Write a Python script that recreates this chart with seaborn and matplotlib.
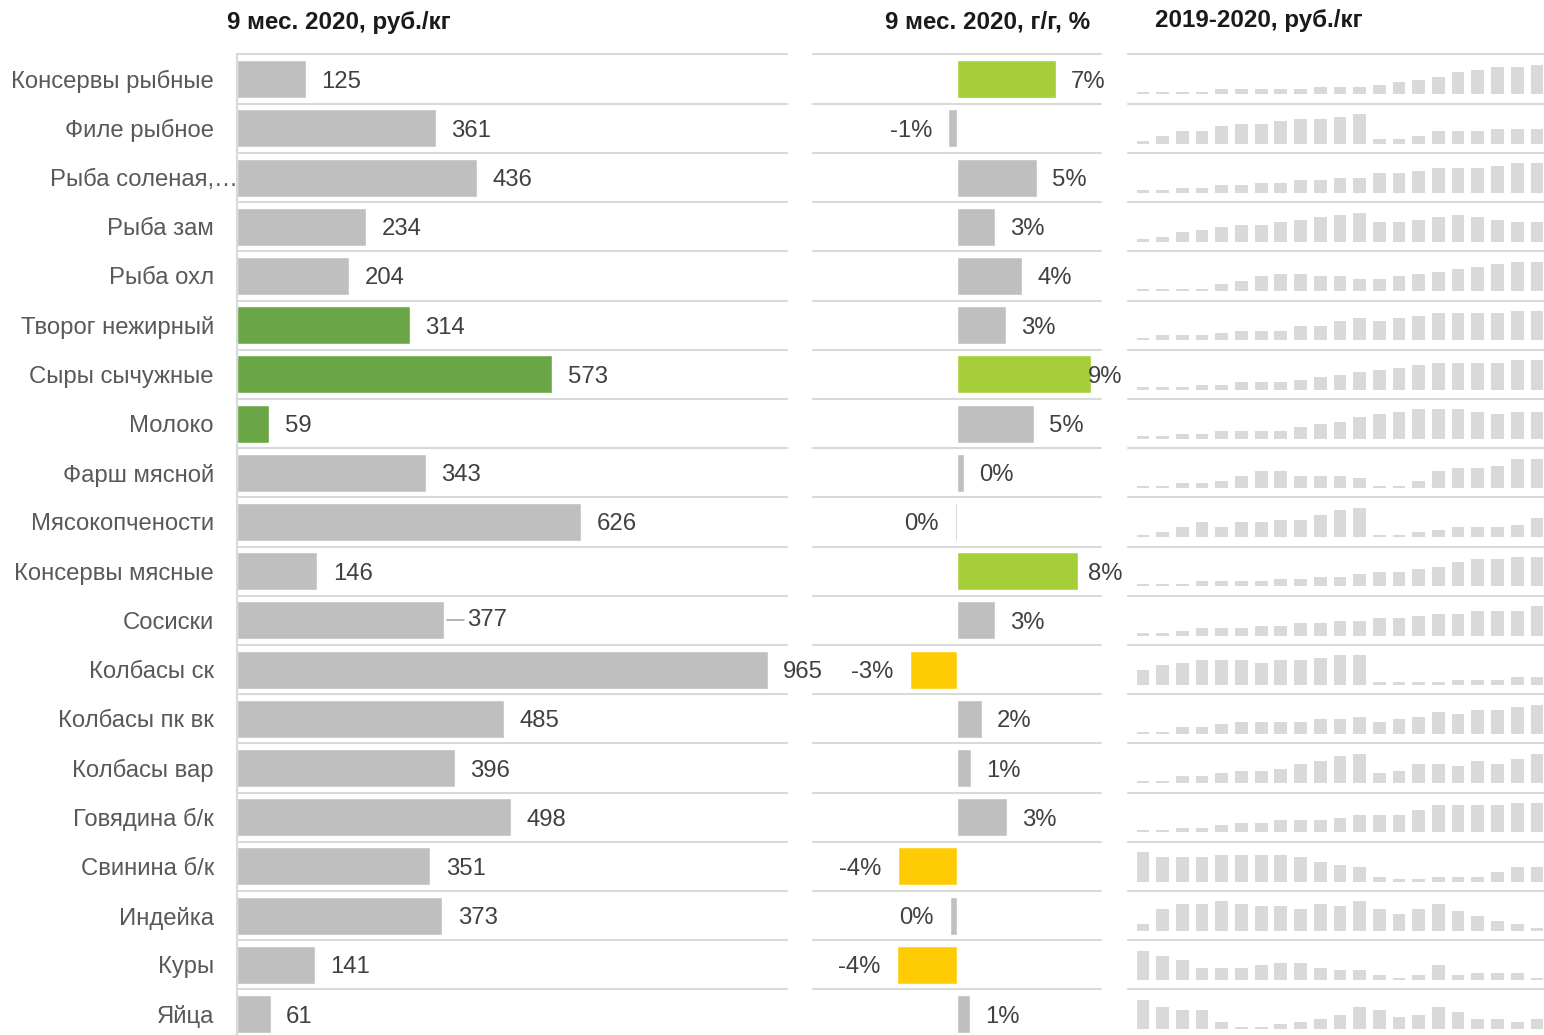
import matplotlib
matplotlib.use("Agg")
import matplotlib.pyplot as plt
import matplotlib.transforms as mtransforms
import seaborn as sns

# ---- data -------------------------------------------------------------
categories = [
    "Консервы рыбные", "Филе рыбное", "Рыба соленая,…", "Рыба зам", "Рыба охл",
    "Творог нежирный", "Сыры сычужные", "Молоко", "Фарш мясной", "Мясокопчености",
    "Консервы мясные", "Сосиски", "Колбасы ск", "Колбасы пк вк", "Колбасы вар",
    "Говядина б/к", "Свинина б/к", "Индейка", "Куры", "Яйца",
]

# average price, 9 months of 2020, rub/kg
price_2020 = [125, 361, 436, 234, 204, 314, 573, 59, 343, 626,
              146, 377, 965, 485, 396, 498, 351, 373, 141, 61]

# year-over-year change, %
yoy_change = [6.7, -0.58, 5.4, 2.6, 4.4, 3.3, 9.05, 5.2, 0.48, -0.15,
              8.2, 2.6, -3.2, 1.7, 0.95, 3.4, -3.97, -0.48, -4.05, 0.86]

# monthly price dynamics 2019-01 .. 2020-09 (relative level within each product)
trend_fish_canned = [1, 1, 1, 1, 2, 2, 2, 2, 2, 3, 3, 3, 4, 5, 6, 7, 9, 10, 11, 11, 12]
trend_fish_fillet = [1, 3, 5, 5, 7, 8, 8, 9, 10, 10, 11, 12, 2, 2, 3, 5, 5, 5, 6, 6, 6]
trend_fish_salted = [1, 1, 2, 2, 3, 3, 4, 4, 5, 5, 6, 6, 8, 8, 9, 10, 10, 10, 11, 12, 12]
trend_fish_frozen = [1, 2, 4, 5, 6, 7, 7, 8, 9, 10, 11, 12, 8, 8, 9, 10, 11, 10, 9, 8, 8]
trend_fish_chilled = [1, 1, 1, 1, 3, 4, 6, 7, 7, 6, 6, 5, 5, 6, 7, 8, 9, 10, 11, 12, 12]
trend_cottage = [1, 2, 2, 2, 3, 4, 4, 4, 6, 6, 8, 9, 8, 9, 10, 11, 11, 11, 11, 12, 12]
trend_cheese = [1, 1, 1, 2, 2, 3, 3, 3, 4, 5, 6, 7, 8, 9, 10, 11, 11, 11, 11, 12, 12]
trend_milk = [1, 1, 2, 2, 3, 3, 3, 3, 5, 6, 7, 9, 10, 11, 12, 12, 12, 11, 10, 11, 11]
trend_mince = [1, 1, 2, 2, 3, 5, 7, 7, 5, 5, 5, 4, 1, 1, 3, 7, 8, 8, 9, 12, 12]
trend_smoked = [1, 2, 4, 6, 4, 6, 6, 7, 7, 9, 11, 12, 1, 1, 2, 3, 4, 4, 4, 5, 8]
trend_meat_canned = [1, 1, 1, 2, 2, 2, 2, 3, 3, 4, 4, 5, 6, 6, 7, 8, 10, 11, 11, 12, 12]
trend_sausages = [1, 1, 2, 3, 3, 3, 4, 4, 5, 5, 6, 6, 7, 7, 8, 9, 9, 10, 10, 10, 12]
trend_dry_sausage = [6, 8, 9, 10, 10, 10, 9, 10, 10, 11, 12, 12, 1, 1, 1, 1, 2, 2, 2, 3, 3]
trend_semi_smoked = [1, 1, 3, 3, 4, 5, 5, 5, 5, 6, 6, 7, 5, 6, 7, 9, 8, 10, 10, 11, 12]
trend_boiled = [1, 1, 3, 3, 4, 5, 5, 6, 8, 9, 11, 12, 4, 5, 8, 8, 7, 9, 8, 10, 12]
trend_beef = [1, 1, 2, 2, 3, 4, 4, 5, 5, 5, 6, 7, 7, 7, 9, 11, 11, 11, 11, 12, 12]
trend_pork = [12, 10, 10, 10, 11, 11, 11, 11, 10, 8, 7, 6, 2, 1, 1, 2, 2, 2, 4, 6, 6]
trend_turkey = [3, 9, 11, 11, 12, 11, 10, 10, 9, 11, 10, 12, 9, 7, 9, 11, 8, 6, 4, 3, 1]
trend_chicken = [12, 10, 8, 5, 5, 5, 6, 7, 7, 5, 4, 4, 2, 1, 2, 6, 2, 3, 3, 3, 1]
trend_eggs = [12, 9, 8, 8, 3, 1, 1, 2, 3, 4, 6, 9, 8, 5, 6, 9, 7, 4, 4, 3, 4]

trends = [
    trend_fish_canned, trend_fish_fillet, trend_fish_salted, trend_fish_frozen,
    trend_fish_chilled, trend_cottage, trend_cheese, trend_milk, trend_mince,
    trend_smoked, trend_meat_canned, trend_sausages, trend_dry_sausage,
    trend_semi_smoked, trend_boiled, trend_beef, trend_pork, trend_turkey,
    trend_chicken, trend_eggs,
]
months = [f"{y}-{m:02d}" for y in (2019, 2020) for m in range(1, 13)][:21]

titles = ["9 мес. 2020, руб./кг", "9 мес. 2020, г/г, %", "2019-2020, руб./кг"]

# ---- styling ----------------------------------------------------------
GRAY = "#bfbfbf"
DAIRY_GREEN = "#6aa645"
LIME = "#a6ce39"
AMBER = "#ffcb05"
GRID = "#d9d9d9"
SPARK = "#d9d9d9"
LABEL_C = "#595959"
VALUE_C = "#404040"
FS = 17.2

dairy = {"Творог нежирный", "Сыры сычужные", "Молоко"}
left_colors = [DAIRY_GREEN if c in dairy else GRAY for c in categories]


def yoy_color(v):
    if v >= 6.5:
        return LIME
    if v <= -2.5:
        return AMBER
    return GRAY


mid_colors = [yoy_color(v) for v in yoy_change]

sns.set_theme(style="white")
plt.rcParams["font.family"] = ["Liberation Sans", "DejaVu Sans"]

W, H = 1544, 1035
fig = plt.figure(figsize=(W / 100, H / 100), dpi=100)


def box(x0, y0, x1, y1):
    return [x0 / W, 1 - y1 / H, (x1 - x0) / W, (y1 - y0) / H]


TOP = 54.5
PITCH = 49.21
N = len(categories)
BOTTOM = TOP + PITCH * N
BAR_W = 0.772
TEXT_DY = -2.5  # nudge labels down so digits sit on the bar centre


def row_grid(ax):
    for k in range(N + 1):
        ax.axhline(k - 0.5, color=GRID, lw=1.5, clip_on=False, zorder=0)


# ---- left panel: prices ----------------------------------------------
axL = fig.add_axes(box(237, TOP, 787, BOTTOM))
axL.set_facecolor("none")
sns.barplot(x=price_2020, y=categories, hue=categories, palette=left_colors,
            dodge=False, legend=False, width=BAR_W, saturation=1,
            orient="h", ax=axL, zorder=2)
axL.set_xlim(0, 1000)
axL.set_ylim(N - 0.5, -0.5)
axL.set_xlabel("")
axL.set_ylabel("")
axL.set_xticks([])
axL.set_yticks([])
for s in ("top", "right", "bottom"):
    axL.spines[s].set_visible(False)
axL.spines["left"].set_color(GRID)
axL.spines["left"].set_linewidth(1.5)
row_grid(axL)

label_tr = mtransforms.offset_copy(axL.get_yaxis_transform(), fig=fig,
                                   x=-23, y=TEXT_DY, units="dots")
for i, name in enumerate(categories):
    if name.endswith("…"):
        axL.text(0, i, name[:-1], transform=label_tr, ha="right", va="center",
                 fontsize=FS, color=LABEL_C)
        axL.text(0, i, "…", transform=label_tr, ha="left", va="center",
                 fontsize=FS, color=LABEL_C)
    else:
        axL.text(0, i, name, transform=label_tr, ha="right", va="center",
                 fontsize=FS, color=LABEL_C)

dy_pt = TEXT_DY * 72 / 100
for i, v in enumerate(price_2020):
    if categories[i] == "Сосиски":
        axL.annotate(f"{v}", xy=(v, i), xytext=(16.5, dy_pt + 2.0),
                     textcoords="offset points", ha="left", va="center",
                     fontsize=FS, color=VALUE_C, annotation_clip=False,
                     arrowprops=dict(arrowstyle="-", color="#a6a6a6", lw=1.2,
                                     shrinkA=0, shrinkB=2,
                                     connectionstyle="angle,angleA=0,angleB=60,rad=0"))
    else:
        axL.annotate(f"{v}", xy=(v, i), xytext=(11.2, dy_pt),
                     textcoords="offset points", ha="left", va="center",
                     fontsize=FS, color=VALUE_C, annotation_clip=False)

# ---- middle panel: year-over-year change ------------------------------
PX_PER_PCT = 14.8
axM = fig.add_axes(box(813, TOP, 1101, BOTTOM))
axM.set_facecolor("none")
sns.barplot(x=yoy_change, y=categories, hue=categories, palette=mid_colors,
            dodge=False, legend=False, width=BAR_W, saturation=1,
            orient="h", ax=axM, zorder=2)
lim = 144 / PX_PER_PCT
axM.set_xlim(-lim, lim)
axM.set_ylim(N - 0.5, -0.5)
axM.set_xlabel("")
axM.set_ylabel("")
axM.set_xticks([])
axM.set_yticks([])
for s in axM.spines.values():
    s.set_visible(False)
row_grid(axM)

mid_tr = mtransforms.offset_copy(axM.transData, fig=fig, x=0, y=TEXT_DY,
                                 units="dots")
gap = 15 / PX_PER_PCT
label_cap = 131 / PX_PER_PCT
for i, v in enumerate(yoy_change):
    txt = f"{int(round(v)) + 0}%"
    if v >= 0:
        axM.text(min(v + gap, label_cap), i, txt, transform=mid_tr,
                 ha="left", va="center", fontsize=FS, color=VALUE_C,
                 zorder=3, clip_on=False)
    else:
        axM.text(v - gap * 1.1, i, txt, transform=mid_tr,
                 ha="right", va="center", fontsize=FS, color=VALUE_C,
                 zorder=3, clip_on=False)

# ---- right panel: monthly sparklines ----------------------------------
SX0, SX1 = 1128, 1544
axS = fig.add_axes(box(SX0, TOP, SX1, BOTTOM))
axS.set_xlim(0, 1)
axS.set_ylim(N - 0.5, -0.5)
axS.set_axis_off()
row_grid(axS)

STEP_PX = 2.45
SPARK_H = 31
for i, series in enumerate(trends):
    base = 94.3 + PITCH * i
    sax = fig.add_axes(box(SX0, base - SPARK_H, SX1, base))
    sax.set_facecolor("none")
    sns.barplot(x=months, y=series, color=SPARK, width=0.645, saturation=1,
                linewidth=0, ax=sax)
    sax.set_xlim(-0.76, 20.36)
    sax.set_ylim(0, SPARK_H / STEP_PX)
    sax.set_axis_off()

# ---- panel titles ------------------------------------------------------
TFS = 17.4
fig.text(339 / W, 1 - 22 / H, titles[0], ha="center", va="center",
         fontsize=TFS, fontweight="bold", color="#1a1a1a")
fig.text(988 / W, 1 - 22 / H, titles[1], ha="center", va="center",
         fontsize=TFS, fontweight="bold", color="#1a1a1a")
fig.text(1259 / W, 1 - 20 / H, titles[2], ha="center", va="center",
         fontsize=TFS, fontweight="bold", color="#1a1a1a")

fig.savefig("out.png", dpi=100)
